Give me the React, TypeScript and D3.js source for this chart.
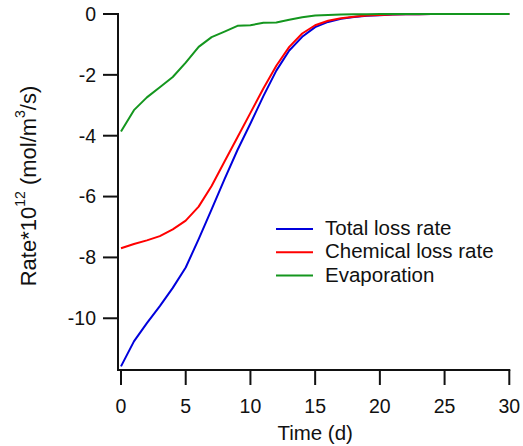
import React from "react";
import * as d3 from "d3";

const days = d3.range(0, 31);
const totalLoss = [-11.58, -10.76, -10.16, -9.6, -9.0, -8.33, -7.4, -6.42, -5.43, -4.47, -3.6, -2.7, -1.86, -1.2, -0.75, -0.43, -0.26, -0.16, -0.1, -0.06, -0.04, -0.02, -0.01, -0.01, 0, 0, 0, 0, 0, 0, 0];
const chemicalLoss = [-7.7, -7.56, -7.44, -7.3, -7.08, -6.79, -6.33, -5.65, -4.85, -4.05, -3.25, -2.45, -1.7, -1.08, -0.64, -0.37, -0.22, -0.14, -0.09, -0.05, -0.03, -0.02, -0.01, -0.01, 0, 0, 0, 0, 0, 0, 0];
const evaporation = [-3.86, -3.16, -2.74, -2.41, -2.07, -1.6, -1.08, -0.76, -0.58, -0.39, -0.37, -0.29, -0.28, -0.19, -0.11, -0.05, -0.03, -0.02, -0.01, -0.01, 0, 0, 0, 0, 0, 0, 0, 0, 0, 0, 0];
const xTicks = [0, 5, 10, 15, 20, 25, 30];
const yTicks = [0, -2, -4, -6, -8, -10];
const seriesNames = ["Total loss rate", "Chemical loss rate", "Evaporation"];
const seriesColors = ["#0000dc", "#ff0000", "#14961e"];

export default function App() {
  const W = 523, H = 446;
  const x = d3.scaleLinear().domain([0, 30]).range([121, 509.3]);
  const y = d3.scaleLinear().domain([-11.7, 0]).range([370, 14]);
  const seriesData = [totalLoss, chemicalLoss, evaporation];
  const line = d3.line<number>().x((_, i) => x(days[i])).y((v) => y(v));
  const font = "'Liberation Sans', Arial, sans-serif";
  const axisX = 118;
  const axisY = 370;
  return (
    <svg width={W} height={H} style={{ position: "absolute", left: 0, top: 0, background: "#fff" }} fontFamily={font}>
      {/* data */}
      {seriesData.map((s, i) => (
        <path key={i} d={line(s) || ""} fill="none" stroke={seriesColors[i]} strokeWidth={2} strokeLinejoin="round" />
      ))}
      {/* y axis */}
      <line x1={axisX} x2={axisX} y1={y(0) - 1} y2={axisY + 1} stroke="#111" strokeWidth={2} />
      {yTicks.map((t) => (
        <g key={t}>
          <line x1={axisX - 15} x2={axisX} y1={y(t)} y2={y(t)} stroke="#111" strokeWidth={2} />
          <text x={96} y={y(t)} dy="0.35em" textAnchor="end" fontSize={19.5} fill="#111">
            {t === 0 ? "0" : "-" + Math.abs(t)}
          </text>
        </g>
      ))}
      {/* x axis */}
      <line x1={axisX - 1} x2={x(30) + 1} y1={axisY} y2={axisY} stroke="#111" strokeWidth={2} />
      {xTicks.map((t) => (
        <g key={t}>
          <line x1={x(t)} x2={x(t)} y1={axisY} y2={axisY + 15} stroke="#111" strokeWidth={2} />
          <text x={x(t)} y={413} textAnchor="middle" fontSize={19.5} fill="#111">
            {t}
          </text>
        </g>
      ))}
      <text x={(x(0) + x(30)) / 2} y={440} textAnchor="middle" fontSize={20.5} fill="#111">
        Time (d)
      </text>
      <text transform={`translate(36,186) rotate(-90)`} textAnchor="middle" fontSize={22} fill="#111">
        Rate*10<tspan dy={-11} fontSize={14}>12</tspan>
        <tspan dy={11}> (mol/m</tspan>
        <tspan dy={-11} fontSize={14}>3</tspan>
        <tspan dy={11}>/s)</tspan>
      </text>
      {/* legend */}
      {seriesNames.map((n, i) => (
        <g key={n}>
          <line x1={276} x2={313} y1={229 + i * 23.3} y2={229 + i * 23.3} stroke={seriesColors[i]} strokeWidth={2} />
          <text x={325} y={229 + i * 23.3} dy="0.3em" fontSize={20.5} fill="#111">
            {n}
          </text>
        </g>
      ))}
    </svg>
  );
}
